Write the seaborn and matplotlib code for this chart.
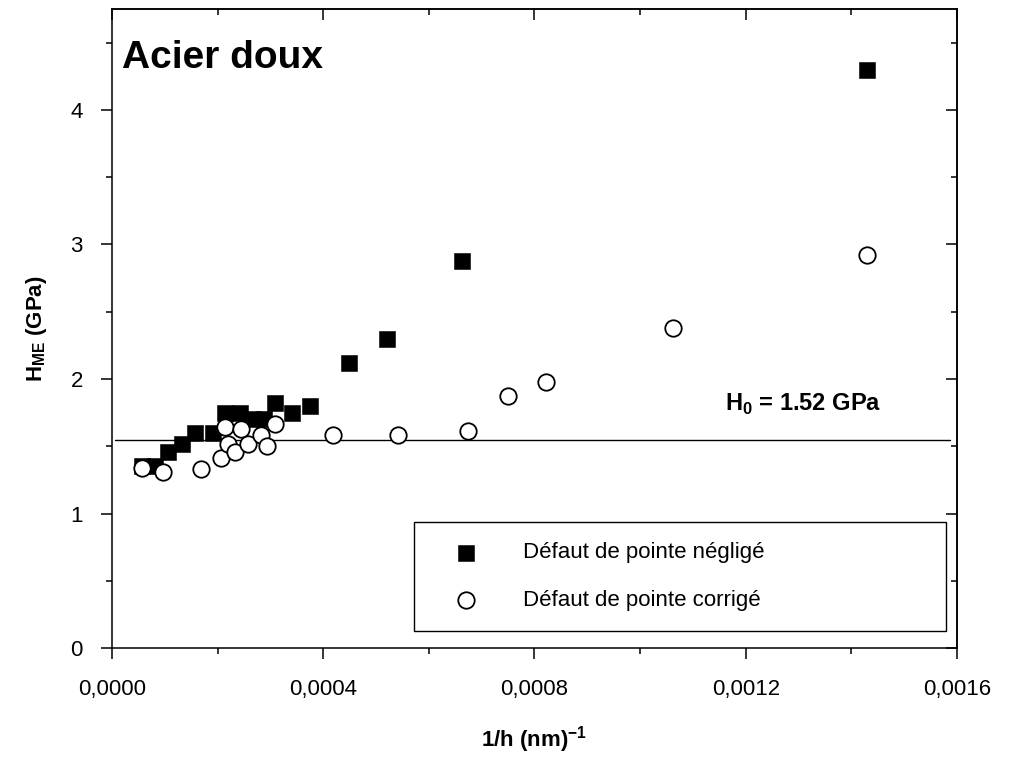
import numpy as np
import pandas as pd
import matplotlib
matplotlib.use("Agg")
import matplotlib.pyplot as plt
import seaborn as sns
from matplotlib.ticker import FixedLocator, MultipleLocator

# ---- data ----
x_neglige = [0.0000562, 0.0000814, 0.0001067, 0.000132, 0.000157, 0.000192,
             0.000214, 0.000242, 0.000268, 0.000287, 0.000309, 0.000340,
             0.000375, 0.000448, 0.000520, 0.000663, 0.001429]
h_neglige = [1.35, 1.35, 1.46, 1.52, 1.60, 1.60, 1.745, 1.745, 1.70, 1.70,
             1.82, 1.745, 1.80, 2.12, 2.30, 2.88, 4.30]

x_corrige = [0.0000562, 0.000096, 0.000168, 0.000206, 0.000214, 0.000220,
             0.000233, 0.000244, 0.000258, 0.000283, 0.000293, 0.000309,
             0.000419, 0.000542, 0.000674, 0.000749, 0.000821, 0.001063,
             0.001429]
h_corrige = [1.336, 1.31, 1.33, 1.41, 1.645, 1.52, 1.46, 1.63, 1.52, 1.585,
             1.50, 1.663, 1.58, 1.58, 1.613, 1.87, 1.98, 2.38, 2.92]

h0_line_x = [0.0000057, 0.001587]
h0_line_y = [1.55, 1.55]

x_ticks = [0.0, 0.0004, 0.0008, 0.0012, 0.0016]
x_ticklabels = ["0,0000", "0,0004", "0,0008", "0,0012", "0,0016"]
y_ticks = [0, 1, 2, 3, 4]
y_ticklabels = ["0", "1", "2", "3", "4"]

label_neglige = "Défaut de pointe négligé"
label_corrige = "Défaut de pointe corrigé"
title_text = "Acier doux"
h0_text = r"$\mathbf{H}_{\mathbf{0}}$ = 1.52 GPa"
xlabel_text = r"1/h (nm)$^{\mathbf{-1}}$"
ylabel_text = r"$\mathbf{H}_{\mathbf{ME}}$ (GPa)"

# ---- style ----
sns.set_theme(style="ticks")
plt.rcParams["font.family"] = ["Liberation Sans", "DejaVu Sans"]
plt.rcParams["mathtext.fontset"] = "custom"
plt.rcParams["mathtext.rm"] = "Liberation Sans"
plt.rcParams["mathtext.bf"] = "Liberation Sans:bold"
plt.rcParams["axes.linewidth"] = 1.1
for key in ["text.color", "axes.labelcolor", "xtick.color", "ytick.color",
            "xtick.labelcolor", "ytick.labelcolor", "axes.edgecolor"]:
    plt.rcParams[key] = "black"

df_n = pd.DataFrame({"x": x_neglige, "h": h_neglige})
df_c = pd.DataFrame({"x": x_corrige, "h": h_corrige})

fig = plt.figure(figsize=(10.15, 7.76), dpi=100)
ax = fig.add_axes([0.1103, 0.1649, 0.8325, 0.8235])

sns.lineplot(x=h0_line_x, y=h0_line_y, color="black", linewidth=1.0, ax=ax, zorder=1)
sns.scatterplot(data=df_n, x="x", y="h", marker="s", color="black",
                edgecolor="black", linewidth=0.4, s=125, ax=ax, zorder=2,
                label=label_neglige)
sns.scatterplot(data=df_c, x="x", y="h", marker="o", color="white",
                edgecolor="black", linewidth=1.3, s=140, ax=ax, zorder=3,
                label=label_corrige)

ax.set_xlim(0, 0.0016)
ax.set_ylim(0, 4.75)
ax.xaxis.set_major_locator(FixedLocator(x_ticks))
ax.set_xticklabels(x_ticklabels)
ax.xaxis.set_minor_locator(MultipleLocator(0.0002))
ax.yaxis.set_major_locator(FixedLocator(y_ticks))
ax.set_yticklabels(y_ticklabels)
ax.yaxis.set_minor_locator(MultipleLocator(0.5))

for sp in ax.spines.values():
    sp.set_visible(True)
    sp.set_color("black")
    sp.set_linewidth(1.1)

ax.tick_params(which="major", direction="out", length=8, width=1.1,
               colors="black", labelsize=16)
ax.tick_params(which="minor", direction="out", length=4.5, width=1.1,
               colors="black")
ax.tick_params(axis="x", which="major", pad=14)
ax.tick_params(axis="y", which="major", pad=13)

# inward ticks on top and right
secx = ax.secondary_xaxis("top")
secx.xaxis.set_major_locator(FixedLocator(x_ticks))
secx.xaxis.set_minor_locator(MultipleLocator(0.0002))
secx.tick_params(which="major", direction="in", length=8, width=1.1, labeltop=False)
secx.tick_params(which="minor", direction="in", length=4.5, width=1.1)
secx.spines["top"].set_linewidth(1.1)
secy = ax.secondary_yaxis("right")
secy.yaxis.set_major_locator(FixedLocator(y_ticks))
secy.yaxis.set_minor_locator(MultipleLocator(0.5))
secy.tick_params(which="major", direction="in", length=8, width=1.1, labelright=False)
secy.tick_params(which="minor", direction="in", length=4.5, width=1.1)
secy.spines["right"].set_linewidth(1.1)

ax.set_xlabel(xlabel_text, fontsize=16, fontweight="bold", labelpad=18)
ax.set_ylabel(ylabel_text, fontsize=16, fontweight="bold", labelpad=15)

ax.text(0.012, 0.908, title_text, transform=ax.transAxes, fontsize=28,
        fontweight="bold", ha="left", va="baseline")
ax.text(0.726, 0.371, h0_text, transform=ax.transAxes, fontsize=17,
        fontweight="bold", ha="left", va="baseline")

leg = ax.legend(loc="lower left", bbox_to_anchor=(0.358, 0.0266, 0.629, 0.175),
                mode="expand", borderaxespad=0, fontsize=16, frameon=True,
                fancybox=False, edgecolor="black", framealpha=1,
                borderpad=0.9, handlelength=2.8, handletextpad=1.2,
                labelspacing=1.2, markerscale=1.0)
leg.get_frame().set_linewidth(1.0)
for t in leg.get_texts():
    t.set_color("black")

fig.savefig("out.png", dpi=100)
